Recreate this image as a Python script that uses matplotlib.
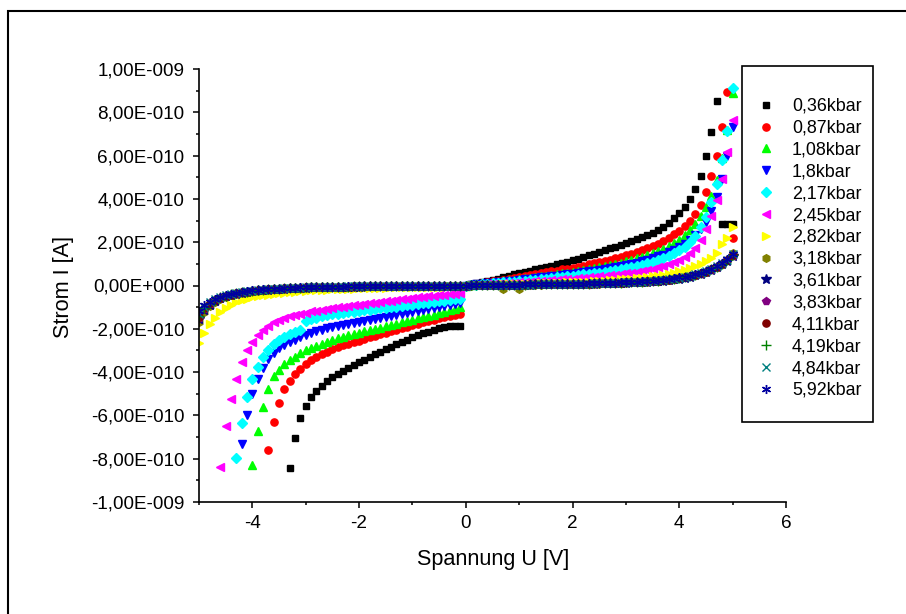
import numpy as np
import matplotlib
matplotlib.use('Agg')
import matplotlib.pyplot as plt
from matplotlib.ticker import MultipleLocator, FuncFormatter
from matplotlib.patches import Rectangle

plt.rcParams['font.family'] = ['Liberation Sans', 'DejaVu Sans']
plt.rcParams['axes.unicode_minus'] = False

# voltage sweep (V)
u_neg = [-5.0, -4.9, -4.8, -4.7, -4.6, -4.5, -4.4, -4.3, -4.2, -4.1,
         -4.0, -3.9, -3.8, -3.7, -3.6, -3.5, -3.4, -3.3, -3.2, -3.1,
         -3.0, -2.9, -2.8, -2.7, -2.6, -2.5, -2.4, -2.3, -2.2, -2.1,
         -2.0, -1.9, -1.8, -1.7, -1.6, -1.5, -1.4, -1.3, -1.2, -1.1,
         -1.0, -0.9, -0.8, -0.7, -0.6, -0.5, -0.4, -0.3, -0.2, -0.1]
u_pos = [0.0, 0.1, 0.2, 0.3, 0.4, 0.5, 0.6, 0.7, 0.8, 0.9, 1.0,
         1.1, 1.2, 1.3, 1.4, 1.5, 1.6, 1.7, 1.8, 1.9, 2.0,
         2.1, 2.2, 2.3, 2.4, 2.5, 2.6, 2.7, 2.8, 2.9, 3.0,
         3.1, 3.2, 3.3, 3.4, 3.5, 3.6, 3.7, 3.8, 3.9, 4.0,
         4.1, 4.2, 4.3, 4.4, 4.5, 4.6, 4.7, 4.8, 4.9, 5.0]

labels = ['0,36kbar', '0,87kbar', '1,08kbar', '1,8kbar', '2,17kbar', '2,45kbar', '2,82kbar',
          '3,18kbar', '3,61kbar', '3,83kbar', '4,11kbar', '4,19kbar', '4,84kbar', '5,92kbar']

# current in 1e-10 A; negative branch ends at -0.1 V, positive branch runs 0.0 .. 5.0 V
i036_neg = [-8.45, -7.05, -6.1, -5.55, -5.15, -4.87, -4.62, -4.40, -4.22, -4.08,
            -3.94, -3.80, -3.66, -3.54, -3.42, -3.30, -3.18, -3.06, -2.94, -2.83,
            -2.72, -2.62, -2.51, -2.40, -2.30, -2.21, -2.13, -2.05, -1.98, -1.93,
            -1.89, -1.87, -1.88]
i036_pos = [0, 0.05, 0.10, 0.15, 0.20, 0.26, 0.32, 0.38, 0.45, 0.51, 0.57,
            0.62, 0.68, 0.74, 0.80, 0.86, 0.92, 0.98, 1.04, 1.10, 1.17,
            1.24, 1.31, 1.39, 1.47, 1.55, 1.63, 1.71, 1.79, 1.87, 1.95,
            2.04, 2.13, 2.22, 2.32, 2.43, 2.56, 2.72, 2.90, 3.10, 3.34,
            3.62, 4.00, 4.47, 5.08, 5.97, 7.08, 8.54, 2.86, 2.84, 2.82]

i087_neg = [-7.6, -6.3, -5.45, -4.8, -4.42, -4.1, -3.85, -3.63, -3.45, -3.3,
            -3.17, -3.05, -2.95, -2.86, -2.77, -2.69, -2.62, -2.55, -2.48, -2.40,
            -2.33, -2.26, -2.19, -2.12, -2.05, -1.98, -1.91, -1.84, -1.77, -1.70,
            -1.64, -1.58, -1.52, -1.46, -1.40, -1.35, -1.30]
i087_pos = [0, 0.03, 0.07, 0.11, 0.15, 0.19, 0.23, 0.27, 0.31, 0.35, 0.40,
            0.44, 0.48, 0.52, 0.56, 0.61, 0.65, 0.69, 0.74, 0.78, 0.83,
            0.87, 0.92, 0.97, 1.02, 1.07, 1.13, 1.19, 1.26, 1.33, 1.40,
            1.47, 1.55, 1.63, 1.72, 1.82, 1.93, 2.05, 2.20, 2.36, 2.53,
            2.74, 3.0, 3.31, 3.74, 4.32, 5.04, 5.97, 7.30, 8.96, 2.2]

i108_neg = [-8.3, -6.7, -5.6, -4.8, -4.2, -3.9, -3.62, -3.45, -3.28, -3.12,
            -3.0, -2.9, -2.8, -2.7, -2.6, -2.5, -2.43, -2.36, -2.30, -2.24,
            -2.18, -2.12, -2.06, -2.0, -1.94, -1.88, -1.82, -1.76, -1.70, -1.64,
            -1.58, -1.52, -1.46, -1.40, -1.34, -1.28, -1.22, -1.15, -1.07, -0.98]
i108_pos = [0, 0.03, 0.06, 0.09, 0.12, 0.15, 0.18, 0.21, 0.24, 0.27, 0.30,
            0.33, 0.36, 0.40, 0.43, 0.46, 0.50, 0.53, 0.57, 0.60, 0.64,
            0.68, 0.72, 0.76, 0.80, 0.85, 0.90, 0.95, 1.0, 1.06, 1.12,
            1.18, 1.25, 1.32, 1.40, 1.49, 1.59, 1.70, 1.82, 1.96, 2.12,
            2.32, 2.56, 2.86, 3.2, 3.62, 4.12, 4.85, 5.9, 7.2, 8.9]

i18_neg = [-7.3, -6.0, -5.0, -4.3, -3.8, -3.4, -3.1, -2.9, -2.75, -2.62,
           -2.5, -2.4, -2.3, -2.2, -2.12, -2.04, -1.97, -1.9, -1.86, -1.81,
           -1.76, -1.72, -1.67, -1.63, -1.58, -1.54, -1.49, -1.45, -1.40, -1.36,
           -1.31, -1.27, -1.22, -1.18, -1.13, -1.09, -1.04, -1.0, -0.95, -0.91,
           -0.86, -0.80]
i18_pos = [0, 0.02, 0.05, 0.08, 0.10, 0.13, 0.15, 0.18, 0.20, 0.23, 0.26,
           0.28, 0.31, 0.34, 0.37, 0.40, 0.43, 0.46, 0.49, 0.52, 0.55,
           0.58, 0.61, 0.65, 0.68, 0.72, 0.76, 0.80, 0.85, 0.90, 0.95,
           1.0, 1.06, 1.12, 1.19, 1.26, 1.34, 1.43, 1.53, 1.64, 1.77,
           1.92, 2.10, 2.32, 2.60, 2.95, 3.45, 4.1, 4.9, 5.97, 7.33]

i217_neg = [-7.95, -6.35, -5.15, -4.3, -3.75, -3.32, -3.0, -2.72, -2.52, -2.38,
            -2.25, -2.15, -2.06, -1.62, -1.55, -1.49, -1.43, -1.38, -1.33, -1.30,
            -1.27, -1.24, -1.21, -1.18, -1.15, -1.12, -1.09, -1.06, -1.03, -1.0,
            -0.97, -0.94, -0.91, -0.88, -0.85, -0.82, -0.79, -0.76, -0.73, -0.70,
            -0.67, -0.64, -0.62]
i217_pos = [0, 0.02, 0.04, 0.06, 0.08, 0.10, 0.12, 0.14, 0.16, 0.18, 0.21,
            0.23, 0.25, 0.27, 0.30, 0.32, 0.35, 0.37, 0.40, 0.42, 0.45,
            0.48, 0.51, 0.54, 0.57, 0.60, 0.63, 0.67, 0.71, 0.75, 0.80,
            0.85, 0.90, 0.96, 1.02, 1.09, 1.17, 1.26, 1.36, 1.48, 1.62,
            1.80, 2.02, 2.30, 2.68, 3.18, 3.85, 4.67, 5.8, 7.14, 9.1]

i245_neg = [-8.4, -6.5, -5.25, -4.3, -3.55, -3.0, -2.6, -2.27, -2.04, -1.85,
            -1.70, -1.58, -1.49, -1.42, -1.36, -1.30, -1.25, -1.20, -1.16, -1.12,
            -1.08, -1.03, -1.0, -0.97, -0.94, -0.91, -0.88, -0.85, -0.82, -0.79,
            -0.76, -0.73, -0.70, -0.67, -0.64, -0.61, -0.58, -0.55, -0.52, -0.49,
            -0.47, -0.44, -0.42, -0.40, -0.38, -0.36]
i245_pos = [0, 0.01, 0.03, 0.04, 0.06, 0.07, 0.09, 0.10, 0.12, 0.13, 0.15,
            0.16, 0.18, 0.19, 0.21, 0.23, 0.24, 0.26, 0.28, 0.30, 0.32,
            0.34, 0.36, 0.38, 0.40, 0.42, 0.45, 0.47, 0.50, 0.53, 0.56,
            0.60, 0.64, 0.68, 0.73, 0.78, 0.84, 0.91, 0.99, 1.08, 1.19,
            1.32, 1.50, 1.75, 2.10, 2.62, 3.2, 3.95, 4.9, 6.17, 7.64]

i282_neg = [-2.65, -2.18, -1.78, -1.49, -1.22, -1.02, -0.88, -0.77, -0.68, -0.61,
            -0.55, -0.50, -0.46, -0.42, -0.39, -0.36, -0.33, -0.31, -0.29, -0.27,
            -0.25, -0.23, -0.22, -0.20, -0.19, -0.18, -0.17, -0.16, -0.15, -0.14,
            -0.13, -0.12, -0.12, -0.11, -0.10, -0.10, -0.09, -0.09, -0.08, -0.08,
            -0.07, -0.07, -0.06, -0.06, -0.05, -0.05, -0.05, -0.04, -0.04, -0.04]
i282_pos = [0, 0.01, 0.01, 0.02, 0.03, 0.03, 0.04, 0.05, 0.05, 0.06, 0.07,
            0.07, 0.08, 0.09, 0.10, 0.11, 0.11, 0.12, 0.13, 0.14, 0.15,
            0.16, 0.17, 0.18, 0.19, 0.21, 0.22, 0.24, 0.26, 0.28, 0.30,
            0.32, 0.34, 0.36, 0.38, 0.42, 0.46, 0.50, 0.55, 0.60, 0.66,
            0.73, 0.81, 0.90, 1.0, 1.12, 1.28, 1.52, 1.9, 2.2, 2.68]

i318_neg = [-1.7, -1.22, -0.95, -0.76, -0.63, -0.53, -0.46, -0.40, -0.35, -0.31,
            -0.27, -0.24, -0.22, -0.20, -0.18, -0.16, -0.15, -0.13, -0.12, -0.11,
            -0.10, -0.09, -0.09, -0.08, -0.08, -0.07, -0.07, -0.06, -0.06, -0.05,
            -0.05, -0.05, -0.04, -0.04, -0.04, -0.03, -0.03, -0.03, -0.03, -0.02,
            -0.02, -0.02, -0.02, -0.02, -0.01, -0.01, -0.01, -0.01, -0.01, -0.01]
i318_pos = [0, 0.0, 0.01, 0.01, 0.01, 0.02, 0.02, -0.17, 0.02, 0.03, -0.14,
            0.03, 0.04, 0.04, 0.04, 0.05, 0.05, 0.05, 0.06, 0.06, 0.07,
            0.07, 0.08, 0.08, 0.09, 0.09, 0.10, 0.11, 0.11, 0.12, 0.13,
            0.14, 0.15, 0.16, 0.18, 0.20, 0.22, 0.24, 0.27, 0.30, 0.34,
            0.38, 0.43, 0.49, 0.56, 0.64, 0.74, 0.86, 1.0, 1.18, 1.52]

i361_neg = [-1.55, -1.12, -0.88, -0.71, -0.59, -0.50, -0.43, -0.38, -0.33, -0.29,
            -0.26, -0.23, -0.21, -0.19, -0.17, -0.15, -0.14, -0.13, -0.12, -0.11,
            -0.10, -0.09, -0.08, -0.08, -0.07, -0.07, -0.06, -0.06, -0.05, -0.05,
            -0.05, -0.04, -0.04, -0.04, -0.03, -0.03, -0.03, -0.03, -0.02, -0.02,
            -0.02, -0.02, -0.02, -0.01, -0.01, -0.01, -0.01, -0.01, -0.01, -0.01]
i361_pos = [0, 0.01, 0.01, 0.01, 0.02, 0.02, 0.02, 0.03, 0.03, 0.03, 0.04,
            0.04, 0.04, 0.05, 0.05, 0.05, 0.06, 0.06, 0.06, 0.07, 0.07,
            0.08, 0.08, 0.09, 0.09, 0.10, 0.10, 0.11, 0.12, 0.12, 0.13,
            0.14, 0.15, 0.16, 0.18, 0.19, 0.21, 0.23, 0.26, 0.29, 0.32,
            0.36, 0.41, 0.47, 0.54, 0.62, 0.72, 0.84, 0.98, 1.15, 1.38]

i383_neg = [-1.5, -1.08, -0.85, -0.69, -0.58, -0.49, -0.42, -0.37, -0.32, -0.28,
            -0.25, -0.22, -0.20, -0.18, -0.16, -0.15, -0.14, -0.12, -0.11, -0.10,
            -0.09, -0.09, -0.08, -0.07, -0.07, -0.06, -0.06, -0.05, -0.05, -0.05,
            -0.04, -0.04, -0.04, -0.03, -0.03, -0.03, -0.03, -0.02, -0.02, -0.02,
            -0.02, -0.02, -0.01, -0.01, -0.01, -0.01, -0.01, -0.01, -0.01, 0.0]
i383_pos = [0, 0.01, 0.01, 0.01, 0.02, 0.02, 0.02, 0.03, 0.03, 0.03, 0.04,
            0.04, 0.04, 0.05, 0.05, 0.05, 0.06, 0.06, 0.07, 0.07, 0.07,
            0.08, 0.08, 0.09, 0.09, 0.10, 0.11, 0.11, 0.12, 0.13, 0.14,
            0.15, 0.16, 0.17, 0.18, 0.20, 0.22, 0.24, 0.27, 0.30, 0.33,
            0.37, 0.42, 0.48, 0.55, 0.63, 0.73, 0.85, 0.99, 1.16, 1.36]

i411_neg = [-1.45, -1.05, -0.83, -0.68, -0.57, -0.48, -0.42, -0.36, -0.32, -0.28,
            -0.25, -0.22, -0.20, -0.18, -0.16, -0.15, -0.13, -0.12, -0.11, -0.10,
            -0.09, -0.08, -0.08, -0.07, -0.07, -0.06, -0.06, -0.05, -0.05, -0.04,
            -0.04, -0.04, -0.04, -0.03, -0.03, -0.03, -0.02, -0.02, -0.02, -0.02,
            -0.02, -0.01, -0.01, -0.01, -0.01, -0.01, -0.01, -0.01, 0.0, 0.0]
i411_pos = [0, 0.01, 0.01, 0.02, 0.02, 0.02, 0.03, 0.03, 0.03, 0.04, 0.04,
            0.04, 0.05, 0.05, 0.05, 0.06, 0.06, 0.06, 0.07, 0.07, 0.08,
            0.08, 0.09, 0.09, 0.10, 0.10, 0.11, 0.12, 0.12, 0.13, 0.14,
            0.15, 0.16, 0.17, 0.19, 0.20, 0.22, 0.25, 0.27, 0.30, 0.34,
            0.38, 0.43, 0.49, 0.56, 0.64, 0.74, 0.86, 1.0, 1.17, 1.40]

i419_neg = [-1.4, -1.02, -0.8, -0.66, -0.55, -0.47, -0.41, -0.36, -0.31, -0.28,
            -0.24, -0.22, -0.19, -0.17, -0.16, -0.14, -0.13, -0.12, -0.11, -0.10,
            -0.09, -0.08, -0.08, -0.07, -0.06, -0.06, -0.05, -0.05, -0.05, -0.04,
            -0.04, -0.04, -0.03, -0.03, -0.03, -0.03, -0.02, -0.02, -0.02, -0.02,
            -0.01, -0.01, -0.01, -0.01, -0.01, -0.01, -0.01, 0.0, 0.0, 0.0]
i419_pos = [0, 0.01, 0.01, 0.01, 0.02, 0.02, 0.02, 0.03, 0.03, 0.04, 0.04,
            0.04, 0.05, 0.05, 0.05, 0.06, 0.06, 0.07, 0.07, 0.07, 0.08,
            0.08, 0.09, 0.09, 0.10, 0.10, 0.11, 0.12, 0.13, 0.13, 0.14,
            0.15, 0.16, 0.18, 0.19, 0.21, 0.23, 0.25, 0.28, 0.31, 0.35,
            0.39, 0.44, 0.50, 0.57, 0.65, 0.75, 0.87, 1.01, 1.18, 1.42]

i484_neg = [-1.3, -0.97, -0.77, -0.64, -0.54, -0.46, -0.40, -0.35, -0.31, -0.27,
            -0.24, -0.21, -0.19, -0.17, -0.15, -0.14, -0.13, -0.12, -0.10, -0.10,
            -0.09, -0.08, -0.07, -0.07, -0.06, -0.06, -0.05, -0.05, -0.04, -0.04,
            -0.04, -0.03, -0.03, -0.03, -0.03, -0.02, -0.02, -0.02, -0.02, -0.02,
            -0.01, -0.01, -0.01, -0.01, -0.01, -0.01, 0.0, 0.0, 0.0, 0.0]
i484_pos = [0, 0.01, 0.01, 0.01, 0.02, 0.02, 0.02, 0.03, 0.03, 0.03, 0.04,
            0.04, 0.04, 0.05, 0.05, 0.06, 0.06, 0.06, 0.07, 0.07, 0.08,
            0.08, 0.09, 0.09, 0.10, 0.11, 0.11, 0.12, 0.13, 0.14, 0.15,
            0.16, 0.17, 0.18, 0.20, 0.22, 0.24, 0.26, 0.29, 0.32, 0.36,
            0.40, 0.45, 0.51, 0.58, 0.66, 0.76, 0.88, 1.02, 1.20, 1.44]

i592_neg = [-1.2, -0.92, -0.74, -0.62, -0.52, -0.45, -0.39, -0.34, -0.30, -0.26,
            -0.23, -0.21, -0.18, -0.17, -0.15, -0.14, -0.12, -0.11, -0.10, -0.09,
            -0.09, -0.08, -0.07, -0.07, -0.06, -0.05, -0.05, -0.05, -0.04, -0.04,
            -0.04, -0.03, -0.03, -0.03, -0.02, -0.02, -0.02, -0.02, -0.02, -0.01,
            -0.01, -0.01, -0.01, -0.01, -0.01, 0.0, 0.0, 0.0, 0.0, 0.0]
i592_pos = [0, 0.01, 0.01, 0.02, 0.02, 0.02, 0.03, 0.03, 0.03, 0.04, 0.04,
            0.05, 0.05, 0.05, 0.06, 0.06, 0.07, 0.07, 0.07, 0.08, 0.08,
            0.09, 0.09, 0.10, 0.10, 0.11, 0.12, 0.12, 0.13, 0.14, 0.15,
            0.16, 0.17, 0.19, 0.20, 0.22, 0.24, 0.27, 0.30, 0.33, 0.37,
            0.41, 0.46, 0.52, 0.59, 0.67, 0.77, 0.89, 1.04, 1.22, 1.45]

series = [(i036_neg, i036_pos), (i087_neg, i087_pos), (i108_neg, i108_pos), (i18_neg, i18_pos),
          (i217_neg, i217_pos), (i245_neg, i245_pos), (i282_neg, i282_pos), (i318_neg, i318_pos),
          (i361_neg, i361_pos), (i383_neg, i383_pos), (i411_neg, i411_pos), (i419_neg, i419_pos),
          (i484_neg, i484_pos), (i592_neg, i592_pos)]

markers = ['s', 'o', '^', 'v', 'D', '<', '>', 'h', '*', 'p', 'o', '+', 'x', (6, 2, 0)]
colors = ['#000000', '#FF0000', '#00FF00', '#0000FF', '#00FFFF', '#FF00FF', '#FFFF00',
          '#808000', '#000080', '#800080', '#800000', '#008000', '#008080', '#0000A0']
msizes = [4.7, 5.2, 6.0, 6.0, 5.0, 6.0, 6.0, 5.5, 7.0, 6.0, 5.2, 6.5, 5.5, 6.5]

fig = plt.figure(figsize=(9.06, 6.14), dpi=100)
ax = fig.add_axes([199/906, 1-502/614, 587/906, 433/614])

for k in range(len(series)):
    neg, pos = series[k]
    x = u_neg[len(u_neg)-len(neg):] + u_pos
    y = neg + pos
    ax.plot(x, y, linestyle='none', marker=markers[k], ms=msizes[k], color=colors[k],
            mec=colors[k], mew=1.0, label=labels[k])

def sci_fmt(v, pos):
    m, e = ('%.2E' % (v*1e-10)).split('E')
    e = int(e)
    return m.replace('.', ',') + 'E' + ('-' if e < 0 else '+') + '%03d' % abs(e)

ax.set_xlim(-5, 6)
ax.set_ylim(-10, 10)
ax.xaxis.set_major_locator(MultipleLocator(2))
ax.xaxis.set_minor_locator(MultipleLocator(1))
ax.yaxis.set_major_locator(MultipleLocator(2))
ax.yaxis.set_minor_locator(MultipleLocator(1))
ax.yaxis.set_major_formatter(FuncFormatter(sci_fmt))
ax.spines['top'].set_visible(False)
ax.spines['right'].set_visible(False)
ax.spines['left'].set_linewidth(1.2)
ax.spines['bottom'].set_linewidth(1.2)
ax.tick_params(which='major', direction='out', length=4.5, width=1.1, labelsize=13.6)
ax.tick_params(which='minor', direction='out', length=2.5, width=1.1)
ax.tick_params(axis='x', pad=5)
ax.tick_params(axis='y', pad=6)

fig.text(493/906, 1-560/614, 'Spannung U [V]', ha='center', va='center', fontsize=15.6)
fig.text(64/906, 1-287/614, 'Strom I [A]', ha='center', va='center', rotation=90, fontsize=15.6)

ax.legend(loc='upper left', bbox_to_anchor=(748/906, 1-89/614), bbox_transform=fig.transFigure,
          frameon=False, fontsize=12.9, handlelength=1.0, handletextpad=0.95, borderpad=0,
          labelspacing=0.27, numpoints=1)
fig.add_artist(Rectangle((742/906, 1-422/614), 131/906, 356/614, transform=fig.transFigure,
                         fill=False, lw=1.2, ec='black'))
# outer frame, only left and top edges fall inside the picture
fig.add_artist(Rectangle((8/906, -0.1), 1.2, 1.1-11/614, transform=fig.transFigure,
                         fill=False, lw=1.5, ec='black'))

fig.savefig('out.png', dpi=100)
